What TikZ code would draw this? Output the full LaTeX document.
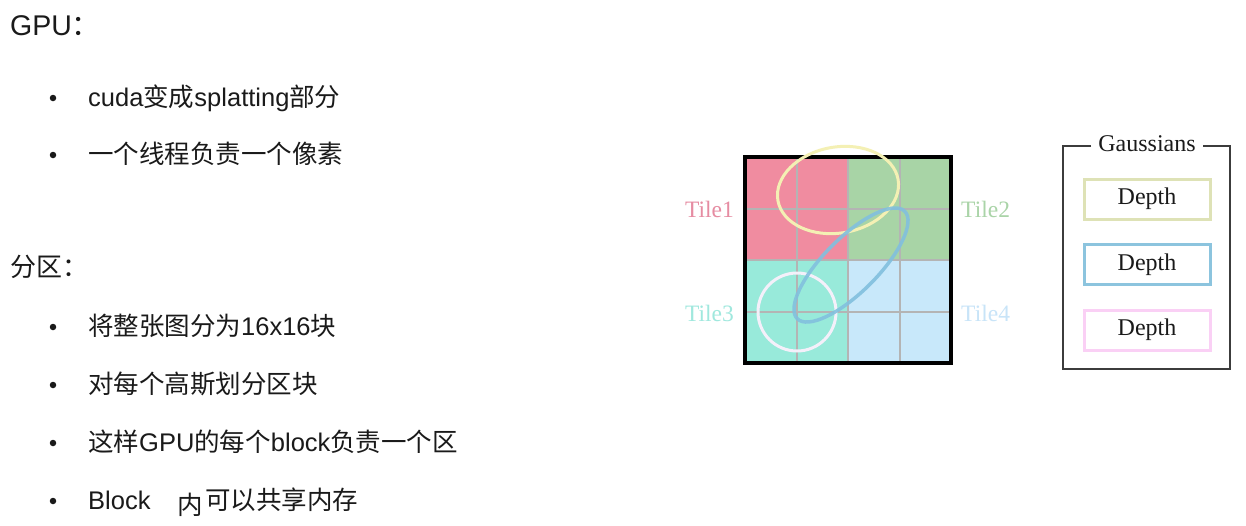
\documentclass[tikz,border=0pt]{standalone}
\usepackage{fontspec}
\setmainfont{Liberation Sans}
\newfontfamily\cjk{Noto Sans CJK SC}
\newfontfamily\tms{Liberation Serif}
\definecolor{inkc}{RGB}{26,26,26}
\definecolor{tileA}{RGB}{240,140,160}
\definecolor{tileB}{RGB}{168,212,166}
\definecolor{tileC}{RGB}{152,234,218}
\definecolor{tileD}{RGB}{200,232,250}
\definecolor{labA}{RGB}{230,140,162}
\definecolor{labB}{RGB}{170,212,168}
\definecolor{labC}{RGB}{160,232,222}
\definecolor{labD}{RGB}{200,228,248}
\definecolor{gridgray}{RGB}{180,180,180}
\definecolor{ellY}{RGB}{244,240,180}
\definecolor{ellB}{RGB}{130,192,222}
\definecolor{ellW}{RGB}{244,240,250}
\definecolor{depY}{RGB}{222,226,182}
\definecolor{depB}{RGB}{140,196,222}
\definecolor{depP}{RGB}{250,208,245}
\definecolor{frameg}{RGB}{60,60,60}
\begin{document}
\begin{tikzpicture}[x=1pt,y=-1pt,
  txt/.style={anchor=base west,inner sep=0pt,text=inkc,font=\fontsize{25.5}{30}\selectfont},
  head/.style={anchor=base west,inner sep=0pt,text=inkc,font=\fontsize{28.5}{32}\selectfont},
  bul/.style={circle,fill=inkc,inner sep=0pt,minimum size=6.5pt},
  tilelab/.style={inner sep=0pt,font=\tms\fontsize{23.5}{26}\selectfont},
  depthbox/.style={draw,line width=3pt,minimum width=126pt,minimum height=40pt,inner sep=0pt,text=inkc,font=\tms\fontsize{24}{26}\selectfont},
  gline/.style={draw=gridgray,line width=2pt}]
\useasboundingbox (0,0) rectangle (1246,525);
\fill[white] (0,0) rectangle (1246,525);

% ---- left text ----
\node[head] (gpu) at (10,35) {GPU{\cjk ：}};
\node[bul] (b1) at (53,98) {};
\node[txt] (t1) at (88,106) {cuda{\cjk 变成}splatting{\cjk 部分}};
\node[bul] (b2) at (53,155) {};
\node[txt] (t2) at (88,163) {\cjk 一个线程负责一个像素};

\node[head,font=\cjk\fontsize{26}{30}\selectfont] (part) at (10,276) {分区：};
\node[bul] (b3) at (53,327) {};
\node[txt] (t3) at (88,335) {{\cjk 将整张图分为}16x16{\cjk 块}};
\node[bul] (b4) at (53,385) {};
\node[txt] (t4) at (88,393) {\cjk 对每个高斯划分区块};
\node[bul] (b5) at (53,443) {};
\node[txt] (t5) at (88,451) {{\cjk 这样}GPU{\cjk 的每个}block{\cjk 负责一个区}};
\node[bul] (b6) at (53,501) {};
\node[txt] (t6) at (88,509) {Block};
\node[txt] (t6b) at (177,514) {\cjk 内};
\node[txt] (t6c) at (205,509) {\cjk 可以共享内存};

% ---- tile grid ----
\fill[tileA] (745,157) rectangle (848,260);
\fill[tileB] (848,157) rectangle (951,260);
\fill[tileC] (745,260) rectangle (848,363);
\fill[tileD] (848,260) rectangle (951,363);
\foreach \p in {796.5,848,899.5}{
  \draw[gline] (\p,157) -- (\p,363);
}
\foreach \p in {208.5,260,311.5}{
  \draw[gline] (745,\p) -- (951,\p);
}
\draw[line width=3.5pt,black] (745,157) rectangle (951,363);

\draw[ellY,line width=3pt,rotate around={10:(838,190)}] (838,190) ellipse [x radius=61, y radius=43];
\draw[ellW,line width=3pt] (797,312) circle [radius=39];
\draw[ellB,line width=3.5pt,opacity=0.9,rotate around={45:(851,265)}] (851,265) ellipse [x radius=76, y radius=27];

\node[tilelab,text=labA,anchor=east] (l1) at (734,209) {Tile1};
\node[tilelab,text=labB,anchor=west] (l2) at (961,209) {Tile2};
\node[tilelab,text=labC,anchor=east] (l3) at (734,313) {Tile3};
\node[tilelab,text=labD,anchor=west] (l4) at (961,313) {Tile4};

% ---- Gaussians box ----
\node[inner sep=7pt,text=inkc,font=\tms\fontsize{24}{26}\selectfont] (gt) at (1147,144) {Gaussians};
\coordinate (gtl) at (1063,146);
\coordinate (gtr) at (1230,146);
\draw[frameg,line width=1.6pt] (gt.west |- gtl) -- (gtl) -- (1063,369) -- (1230,369) -- (gtr) -- (gt.east |- gtr);
\node[depthbox,draw=depY] (d1) at (1147,199) {Depth};
\node[depthbox,draw=depB] (d2) at (1147,264.5) {Depth};
\node[depthbox,draw=depP] (d3) at (1147,330) {Depth};
\end{tikzpicture}
\end{document}
